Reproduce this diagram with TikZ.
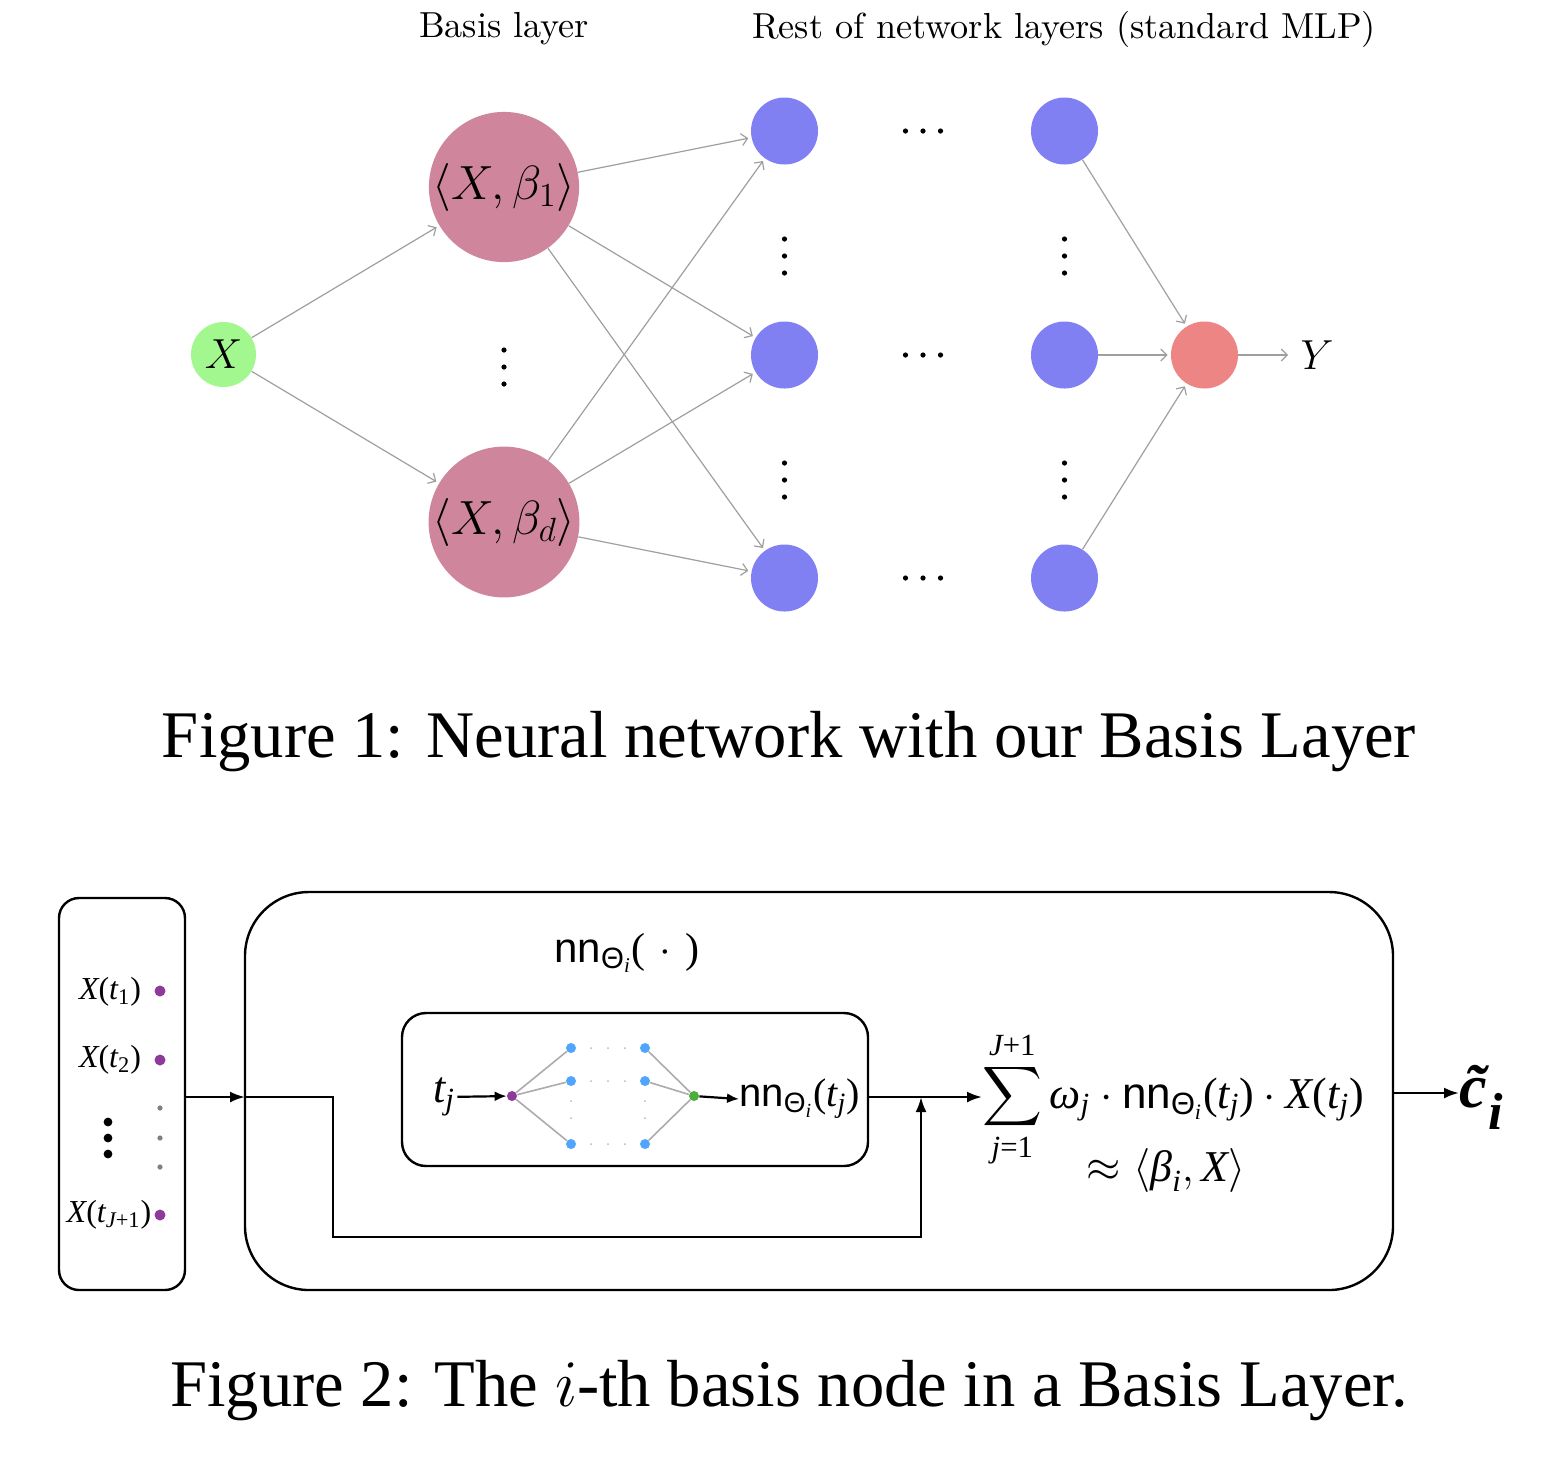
\RequirePackage{fix-cm}
\documentclass[tikz,border=0pt]{standalone}
\usepackage{amsmath}
\usepackage{fontspec}
\usetikzlibrary{arrows.meta,calc}
\newfontfamily\tms[NFSSFamily=libserif]{Liberation Serif}
\newfontfamily\hvf{Liberation Sans}
\newfontfamily\lmten{lmroman10-regular}[Extension=.otf]
\newcommand\TmI[1]{\text{\tms\itshape #1}}
\newcommand\TmR[1]{\text{\tms\upshape #1}}
\newcommand\HvS[1]{\text{\hvf #1}}
\definecolor{cgreen}{RGB}{162,248,142}
\definecolor{cpink}{RGB}{207,133,155}
\definecolor{cblue}{RGB}{128,128,242}
\definecolor{cred}{RGB}{238,133,133}
\definecolor{cpurple}{RGB}{142,58,154}
\definecolor{cdotblue}{RGB}{80,166,255}
\definecolor{cdotgreen}{RGB}{76,175,60}
\begin{document}
\begin{tikzpicture}[x=0.5pt,y=-0.5pt,
  gar/.style={draw=gray!75, line width=0.6pt, -{Straight Barb[length=3pt,width=6pt]}, shorten >=1.5pt},
  inp/.style={circle, fill=cgreen, minimum size=32.5pt, inner sep=0pt, font=\fontsize{21}{24}\selectfont},
  basis/.style={circle, fill=cpink, minimum size=74pt, inner sep=0pt, font=\fontsize{24}{28}\selectfont},
  hid/.style={circle, fill=cblue, minimum size=33.5pt, inner sep=0pt},
  outn/.style={circle, fill=cred, minimum size=33.5pt, inner sep=0pt},
  hdr/.style={anchor=base, inner sep=0pt, font=\lmten\fontsize{18.1}{22}\selectfont},
  captxt/.style={anchor=base, inner sep=0pt, font=\tms\fontsize{33.3}{40}\selectfont},
  barr/.style={line width=1.2pt, -{Latex[length=7.5pt,width=5.5pt]}},
  sarr/.style={line width=1.1pt, -{Latex[length=6pt,width=5pt]}},
  rbox/.style={draw, line width=1.2pt, inner sep=0pt},
  lbl/.style={inner sep=0pt, font=\fontsize{16}{19}\selectfont},
  pdot/.style={circle, fill=cpurple, minimum size=5.5pt, inner sep=0pt},
  bdot/.style={circle, fill=cdotblue, minimum size=5pt, inner sep=0pt},
  gdot/.style={circle, fill=cdotgreen, minimum size=5pt, inner sep=0pt},
  nline/.style={draw=gray!65, line width=0.8pt},
  ndots/.style={draw=gray!55, line width=1pt, line cap=round, dash pattern=on 0pt off 8.5pt},
  big/.style={inner sep=0pt, font=\fontsize{22}{26}\selectfont}
]
\useasboundingbox (0,0) rectangle (1546,1458);
\fill[white] (0,0) rectangle (1546,1458);

% ---------------- Figure 1 ----------------
\node[hdr] (hb) at (504,37) {Basis layer};
\node[hdr] (hr) at (1064,38) {Rest of network layers (standard MLP)};

\node[inp] (x) at (223.5,354.5) {$X$};
\node[basis] (b1) at (504,187) {$\langle X,\beta_1\rangle$};
\node[basis] (bd) at (504,522) {$\langle X,\beta_d\rangle$};
\node[hid] (h1) at (784.5,131) {};
\node[hid] (h2) at (784.5,355) {};
\node[hid] (h3) at (784.5,578) {};
\node[hid] (g1) at (1064.5,131) {};
\node[hid] (g2) at (1064.5,355) {};
\node[hid] (g3) at (1064.5,578) {};
\node[outn] (o) at (1204.5,355) {};
\node[inner sep=2pt, font=\fontsize{21}{24}\selectfont] (yy) at (1317,355) {$Y$};

\draw[gar] (x) -- (b1);
\draw[gar] (x) -- (bd);
\foreach \s in {b1,bd}{\foreach \t in {h1,h2,h3}{\draw[gar] (\s) -- (\t);}}
\draw[gar] (g1) -- (o);
\draw[gar] (g2) -- (o);
\draw[gar] (g3) -- (o);
\draw[gar, shorten >=4pt] (o) -- (yy);

% dots
\foreach \x/\y in {504/367,784.5/256,784.5/480,1064.5/256,1064.5/480}{
  \foreach \d in {-17,0,17}{\fill (\x,\y+\d) circle (1.3pt);}}
\foreach \y in {131,355,578}{
  \foreach \d in {-17.5,0,17.5}{\fill (923+\d,\y) circle (1.3pt);}}

\node[captxt] (cap1) at (789,757) {Figure 1: Neural network with our Basis Layer};

% ---------------- Figure 2 ----------------
\node[rbox, rounded corners=10pt, minimum width=63pt, minimum height=196pt] (lb) at (122,1094) {};
\node[rbox, rounded corners=32pt, minimum width=574pt, minimum height=199pt] (bb) at (819,1091) {};
\node[rbox, rounded corners=12pt, minimum width=233pt, minimum height=76.5pt] (ib) at (635,1089.5) {};

\node[lbl] (x1) at (110,992) {$\TmI{X}\TmR{(}\TmI{t}_{\TmR{1}}\TmR{)}$};
\node[lbl] (x2) at (110,1060) {$\TmI{X}\TmR{(}\TmI{t}_{\TmR{2}}\TmR{)}$};
\node[lbl] (xj) at (109,1215) {$\TmI{X}\TmR{(}\TmI{t}_{\TmI{J}\TmR{+1}}\TmR{)}$};
\node[pdot] (p1) at (160,991) {};
\node[pdot] (p2) at (160,1060) {};
\node[pdot] (pj) at (160,1215) {};
\foreach \y in {1122,1138,1154}{\fill (108,\y) circle (2.2pt);}
\foreach \y in {1108,1138,1167}{\fill[gray] (160,\y) circle (1.3pt);}

\coordinate (jn) at (245,1097);
\coordinate (up) at (921,1097);
\draw[barr] (lb.east |- jn) -- (jn);
\draw[barr] (jn) -- (333,1097) -- (333,1237) -| (up);

\node[big, font=\fontsize{21}{25}\selectfont] (nnt) at (627,953) {$\HvS{nn}_{\HvS{Θ}_{\TmI{i}}}\TmR{(}\mskip6mu{\cdot}\mskip6mu\TmR{)}$};

\node[inner sep=1pt, font=\fontsize{22}{26}\selectfont] (tj) at (444,1097) {$\TmI{t}_{\TmI{j}}$};
\node[pdot, minimum size=5pt] (np) at (512,1096) {};
\node[bdot] (l1) at (571,1048) {};
\node[bdot] (l2) at (571,1081) {};
\node[bdot] (l3) at (571,1144) {};
\node[bdot] (r1) at (645,1048) {};
\node[bdot] (r2) at (645,1081) {};
\node[bdot] (r3) at (645,1144) {};
\node[gdot] (ng) at (694,1096) {};
\foreach \t in {l1,l2,l3}{\draw[nline] (np) -- (\t);}
\foreach \t in {r1,r2,r3}{\draw[nline] (\t) -- (ng);}
\draw[ndots] ($(l1)+(20,0)$) -- ($(r1)-(15,0)$);
\draw[ndots] ($(l2)+(20,0)$) -- ($(r2)-(15,0)$);
\draw[ndots] ($(l3)+(20,0)$) -- ($(r3)-(15,0)$);
\draw[ndots] ($(l2)+(0,20)$) -- ($(l3)-(0,15)$);
\draw[ndots] ($(r2)+(0,20)$) -- ($(r3)-(0,15)$);
\draw[sarr] (tj) -- (np);
\node[inner sep=0pt, anchor=west, font=\fontsize{20}{24}\selectfont] (nnl) at (739,1099) {$\HvS{nn}_{\HvS{Θ}_{\TmI{i}}}\TmR{(}\TmI{t}_{\TmI{j}}\TmR{)}$};
\draw[sarr] (ng) -- (nnl.west);

\node[big, anchor=base west] (sum) at (982,1108) {$\displaystyle\sum_{\TmI{j}\TmR{=1}}^{\TmI{J}\TmR{+1}} \TmI{ω}_{\TmI{j}}\cdot\HvS{nn}_{\HvS{Θ}_{\TmI{i}}}\TmR{(}\TmI{t}_{\TmI{j}}\TmR{)}\cdot\TmI{X}\TmR{(}\TmI{t}_{\TmI{j}}\TmR{)}$};
\draw[barr] (ib.east |- up) -- (sum.west |- up);
\node[big] (apx) at (1166,1170) {$\approx\langle\TmI{β}_{\TmI{i}},\TmI{X}\rangle$};

\node[inner sep=0pt, anchor=base west, font=\tms\bfseries\itshape\fontsize{31}{36}\selectfont] (ci) at (1459,1107) {\~c\kern1pt\raisebox{-0.36em}{\fontsize{26}{30}\selectfont i}};
\coordinate (oy) at (bb.east |- 0,1093);
\draw[barr] (oy) -- (oy -| ci.west);

\node[captxt] (cap2) at (789,1406) {Figure 2: The $i$-th basis node in a Basis Layer.};
\end{tikzpicture}
\end{document}
